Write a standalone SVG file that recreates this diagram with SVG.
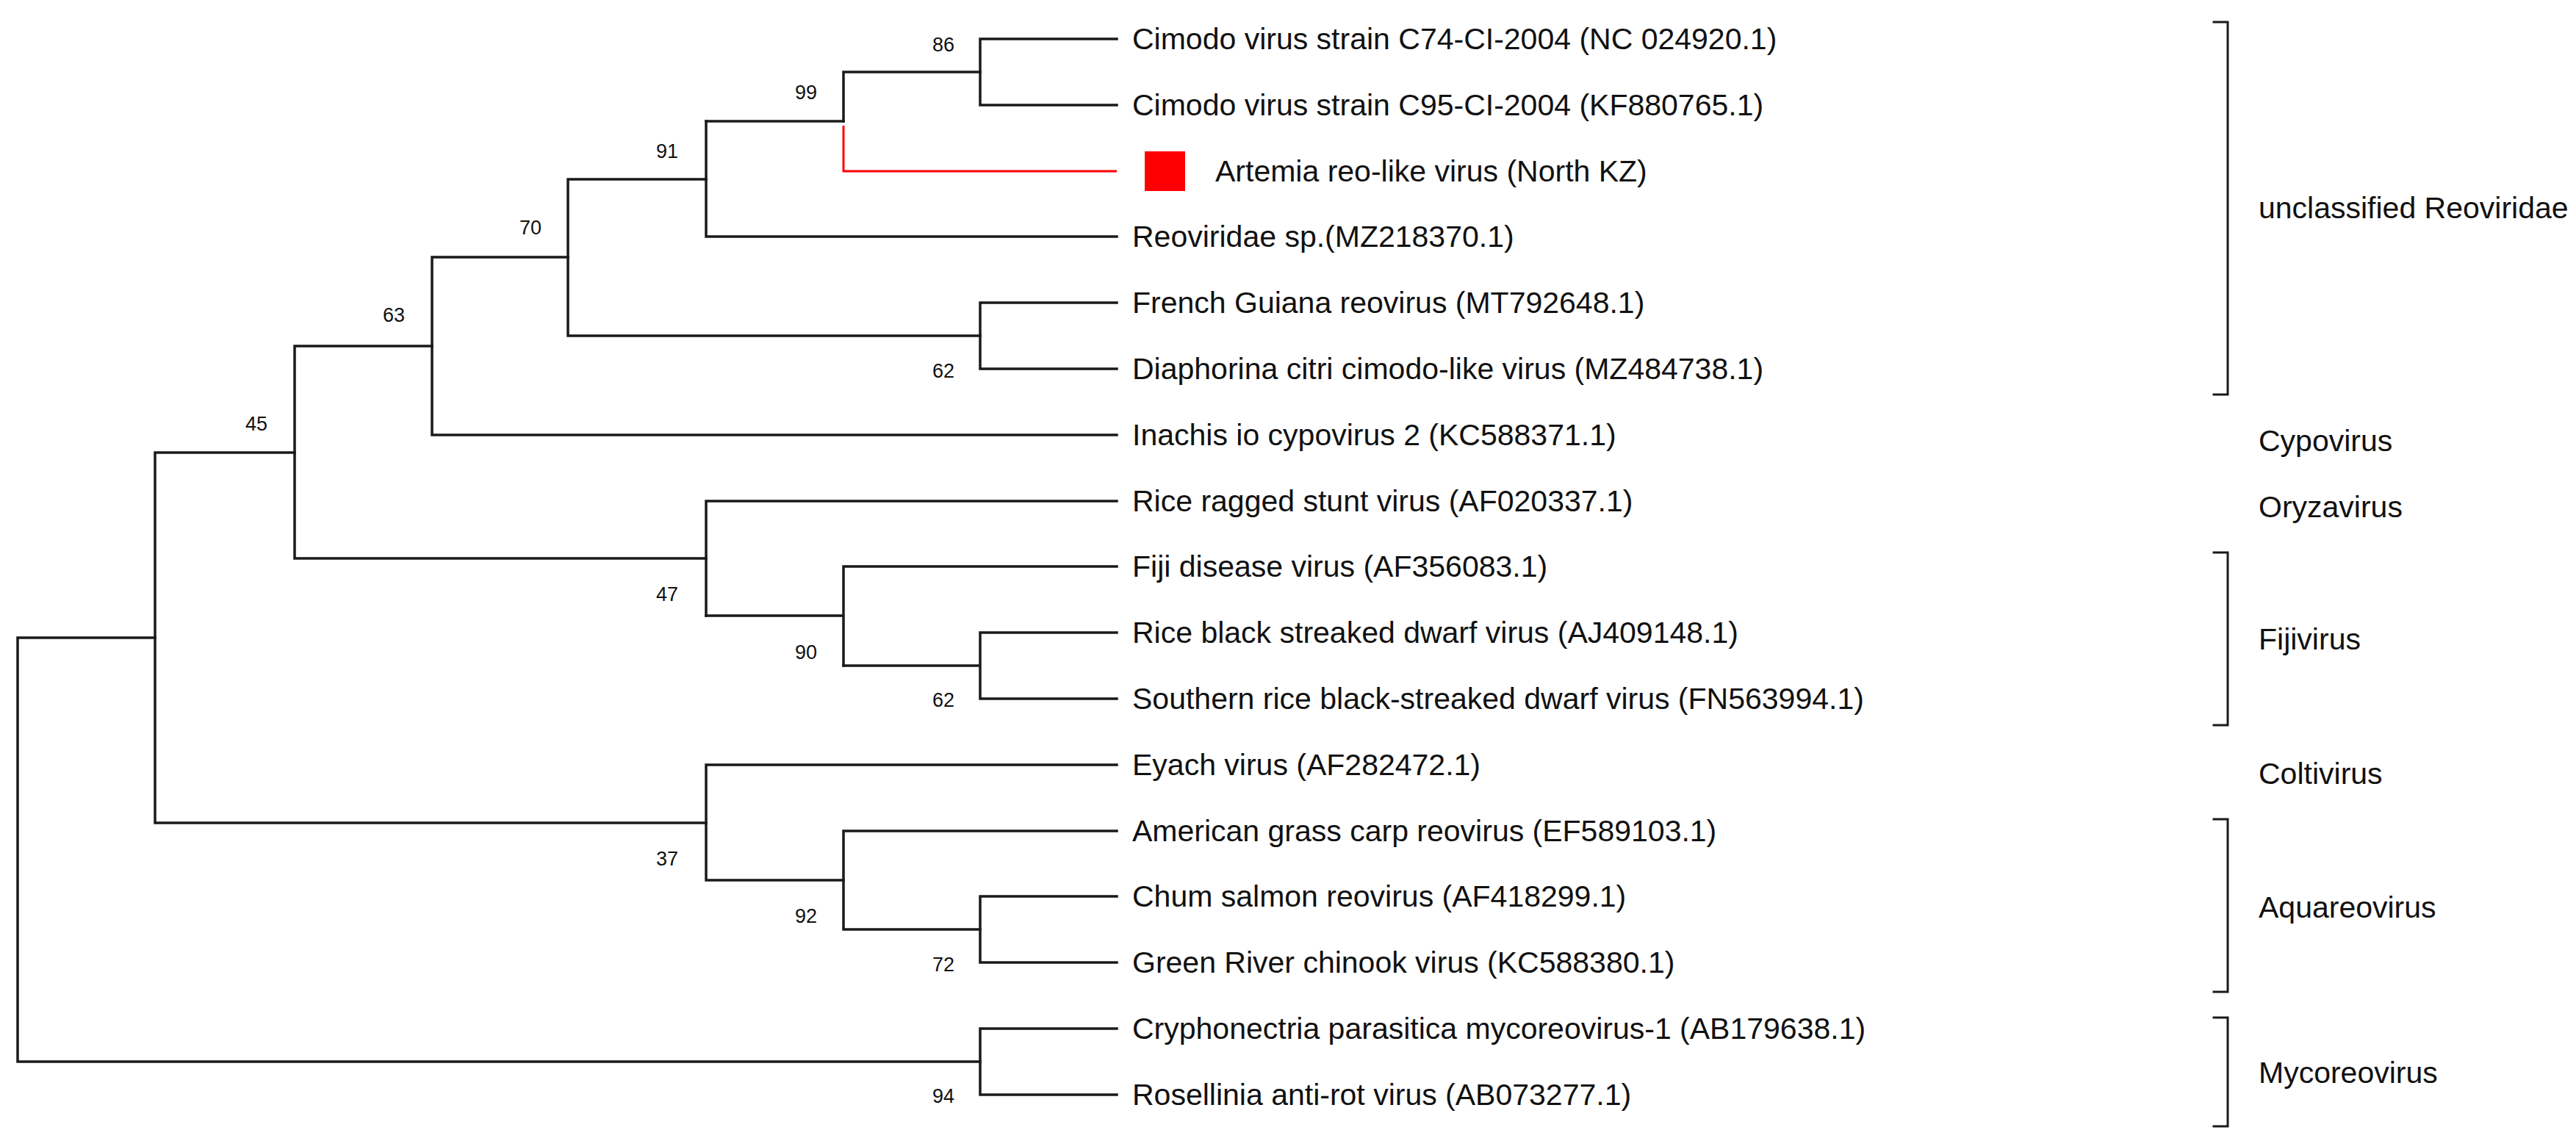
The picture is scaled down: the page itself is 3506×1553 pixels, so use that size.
<svg xmlns="http://www.w3.org/2000/svg" width="3506" height="1553" viewBox="0 0 3506 1553">
<style>
.b{fill:none;stroke:#1a1a1a;stroke-width:3.5;stroke-linecap:square}
.r{fill:none;stroke:#ff0000;stroke-width:3}
.t{font-family:"Liberation Sans",Arial,sans-serif;font-size:41px;fill:#111;dominant-baseline:central}
.n{font-family:"Liberation Sans",Arial,sans-serif;font-size:27px;fill:#111;text-anchor:middle;dominant-baseline:central}
</style>
<rect width="3506" height="1553" fill="#fff"/>
<g id="connectors">
<path class="b" d="M1334,53V143M1334,53H1520M1334,143H1520"/>
<path class="b" d="M1148,165V98H1334"/>
<path class="r" d="M1148,171V233H1520"/>
<path class="b" d="M961,165H1148"/>
<path class="b" d="M961,165V322H1520"/>
<path class="b" d="M1334,412V502M1334,412H1520M1334,502H1520"/>
<path class="b" d="M773,244H961M773,244V457H1334"/>
<path class="b" d="M588,350H773M588,350V592H1520"/>
<path class="b" d="M401,471H588M401,471V760H961"/>
<path class="b" d="M961,682V838M961,682H1520"/>
<path class="b" d="M1148,771V906M1148,771H1520M961,838H1148"/>
<path class="b" d="M1334,861V951M1334,861H1520M1334,951H1520M1148,906H1334"/>
<path class="b" d="M211,616H401M211,616V1120H961"/>
<path class="b" d="M961,1041V1198M961,1041H1520M961,1198H1148"/>
<path class="b" d="M1148,1131V1265M1148,1131H1520M1148,1265H1334"/>
<path class="b" d="M1334,1220V1310M1334,1220H1520M1334,1310H1520"/>
<path class="b" d="M24,868H211M24,868V1445H1334"/>
<path class="b" d="M1334,1400V1490M1334,1400H1520M1334,1490H1520"/>
<path class="b" d="M3013,30H3032V537H3013M3013,752H3032V987H3013M3013,1115H3032V1350H3013M3013,1385H3032V1533H3013" style="stroke-width:3"/>
</g>
<g id="bootstrap">
<text class="n" x="1284" y="61">86</text>
<text class="n" x="1097" y="126">99</text>
<text class="n" x="908" y="206">91</text>
<text class="n" x="722" y="310">70</text>
<text class="n" x="536" y="429">63</text>
<text class="n" x="349" y="577">45</text>
<text class="n" x="1284" y="505">62</text>
<text class="n" x="908" y="809">47</text>
<text class="n" x="1097" y="888">90</text>
<text class="n" x="1284" y="953">62</text>
<text class="n" x="908" y="1169">37</text>
<text class="n" x="1097" y="1247">92</text>
<text class="n" x="1284" y="1313">72</text>
<text class="n" x="1284" y="1492">94</text>
</g>
<g id="tips">
<text class="t" x="1541" y="53">Cimodo virus strain C74-CI-2004 (NC 024920.1)</text>
<text class="t" x="1541" y="143">Cimodo virus strain C95-CI-2004 (KF880765.1)</text>
<rect x="1558" y="206" width="55" height="54" fill="#ff0000"/>
<text class="t" x="1654" y="233">Artemia reo-like virus (North KZ)</text>
<text class="t" x="1541" y="322">Reoviridae sp.(MZ218370.1)</text>
<text class="t" x="1541" y="412">French Guiana reovirus (MT792648.1)</text>
<text class="t" x="1541" y="502">Diaphorina citri cimodo-like virus (MZ484738.1)</text>
<text class="t" x="1541" y="592">Inachis io cypovirus 2 (KC588371.1)</text>
<text class="t" x="1541" y="682">Rice ragged stunt virus (AF020337.1)</text>
<text class="t" x="1541" y="771">Fiji disease virus (AF356083.1)</text>
<text class="t" x="1541" y="861">Rice black streaked dwarf virus (AJ409148.1)</text>
<text class="t" x="1541" y="951">Southern rice black-streaked dwarf virus (FN563994.1)</text>
<text class="t" x="1541" y="1041">Eyach virus (AF282472.1)</text>
<text class="t" x="1541" y="1131">American grass carp reovirus (EF589103.1)</text>
<text class="t" x="1541" y="1220">Chum salmon reovirus (AF418299.1)</text>
<text class="t" x="1541" y="1310">Green River chinook virus (KC588380.1)</text>
<text class="t" x="1541" y="1400">Cryphonectria parasitica mycoreovirus-1 (AB179638.1)</text>
<text class="t" x="1541" y="1490">Rosellinia anti-rot virus (AB073277.1)</text>
</g>
<g id="groups">
<text class="t" x="3074" y="283">unclassified Reoviridae</text>
<text class="t" x="3074" y="600">Cypovirus</text>
<text class="t" x="3074" y="690">Oryzavirus</text>
<text class="t" x="3074" y="870">Fijivirus</text>
<text class="t" x="3074" y="1053">Coltivirus</text>
<text class="t" x="3074" y="1235">Aquareovirus</text>
<text class="t" x="3074" y="1460">Mycoreovirus</text>
</g>
</svg>
